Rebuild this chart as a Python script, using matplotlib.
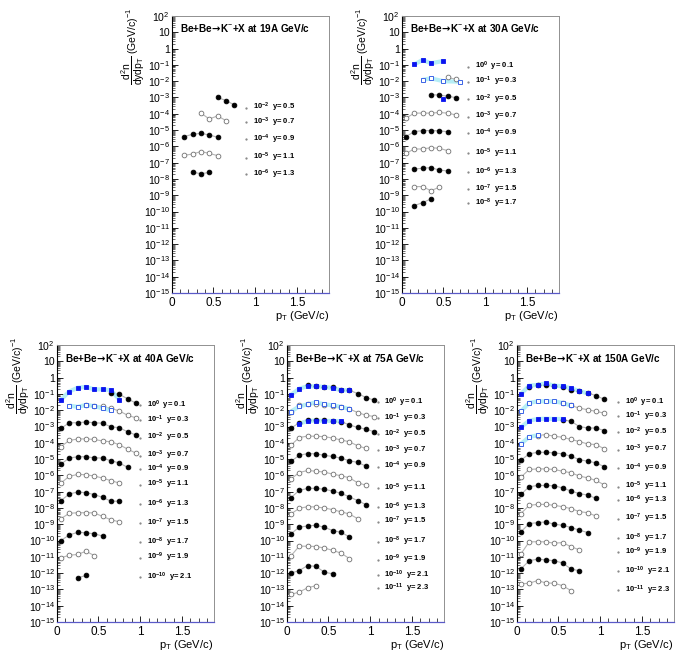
import numpy as np
import matplotlib
matplotlib.use('Agg')
import matplotlib.pyplot as plt
from matplotlib.ticker import LogLocator, MultipleLocator, FuncFormatter, NullFormatter

plt.rcParams['font.family'] = ['Liberation Sans', 'DejaVu Sans']
plt.rcParams['mathtext.fontset'] = 'custom'
plt.rcParams['mathtext.rm'] = 'Liberation Sans'
plt.rcParams['mathtext.it'] = 'Liberation Sans'
plt.rcParams['mathtext.bf'] = 'Liberation Sans:bold'
plt.rcParams['mathtext.sf'] = 'DejaVu Sans:bold'

n = np.nan

# pT bin centres (GeV/c)
pt = [0.05, 0.15, 0.25, 0.35, 0.45, 0.55, 0.65, 0.75, 0.85, 0.95, 1.05]

# ---- 19A GeV/c ----
rap_19 = [0.5, 0.7, 0.9, 1.1, 1.3]
exp_19 = [-2, -3, -4, -5, -6]
circ_19 = [
    [n, n, n, n, n, 1.0e-3, 6.5e-4, 3.5e-4, n, n, n],
    [n, n, n, 1.1e-4, 4.8e-5, 7.4e-5, 3.8e-5, n, n, n, n],
    [n, 4.0e-6, 5.5e-6, 6.3e-6, 5.0e-6, 3.6e-6, n, n, n, n, n],
    [n, 2.8e-7, 3.4e-7, 4.8e-7, 3.7e-7, 2.7e-7, n, n, n, n, n],
    [n, n, 2.6e-8, 2.1e-8, 2.5e-8, n, n, n, n, n, n],
]
sq_pt_19 = []
sq_rap_19 = []
sq_19 = []
lab_y_19 = [2.4e-4, 3.0e-5, 2.7e-6, 2.0e-7, 2.0e-8]

# ---- 30A GeV/c ----
rap_30 = [0.1, 0.3, 0.5, 0.7, 0.9, 1.1, 1.3, 1.5, 1.7]
exp_30 = [0, -1, -2, -3, -4, -5, -6, -7, -8]
circ_30 = [
    [n, n, n, n, n, n, n, n, n, n, n],
    [n, n, n, n, n, 1.7e-2, 1.3e-2, n, n, n, n],
    [n, n, n, 1.5e-3, 1.4e-3, 1.2e-3, 9.8e-4, n, n, n, n],
    [5.2e-5, 1.1e-4, 1.1e-4, 1.1e-4, 1.2e-4, 1.1e-4, 8.5e-5, n, n, n, n],
    [4.0e-6, 7.9e-6, 9.3e-6, 9.3e-6, 9.0e-6, 7.9e-6, n, n, n, n, n],
    [3.7e-7, 6.9e-7, 6.9e-7, 8.3e-7, 7.6e-7, 5.5e-7, n, n, n, n, n],
    [n, 4.1e-8, 4.5e-8, 5.0e-8, 3.5e-8, 3.1e-8, n, n, n, n, n],
    [n, 3.4e-9, 3.4e-9, 1.9e-9, 3.1e-9, n, n, n, n, n, n],
    [n, 2.3e-10, 3.5e-10, 5.9e-10, n, n, n, n, n, n, n],
]
sq_pt_30 = [0.15, 0.25, 0.35, 0.50, 0.70]
sq_rap_30 = [0.1, 0.3, 0.5]
sq_30 = [
    [0.107, 0.20, 0.126, 0.174, n],
    [n, 1.2e-2, 1.5e-2, 1.0e-2, 9.3e-3],
    [n, n, n, 8.1e-4, n],
]
lab_y_30 = [7.8e-2, 9.3e-3, 7.8e-4, 6.6e-5, 6.3e-6, 3.7e-7, 2.5e-8, 2.3e-9, 3.2e-10]

# ---- 40A GeV/c ----
rap_40 = [0.1, 0.3, 0.5, 0.7, 0.9, 1.1, 1.3, 1.5, 1.7, 1.9, 2.1]
exp_40 = [0, -1, -2, -3, -4, -5, -6, -7, -8, -9, -10]
circ_40 = [
    [n, n, n, n, n, n, 0.11, 9.5e-2, 5.0e-2, 2.7e-2, n],
    [n, n, n, 2.2e-2, 1.9e-2, 1.7e-2, 1.3e-2, 9.0e-3, 4.9e-3, 3.4e-3, n],
    [7.6e-4, 1.7e-3, 1.7e-3, 1.9e-3, 1.7e-3, 1.6e-3, 9.5e-4, 8.5e-4, 4.7e-4, 3.0e-4, n],
    [5.7e-5, 1.4e-4, 1.7e-4, 1.75e-4, 1.6e-4, 1.3e-4, 1.15e-4, 7.6e-5, 4.1e-5, 2.3e-5, n],
    [4.9e-6, 1.15e-5, 1.4e-5, 1.4e-5, 1.2e-5, 1.15e-5, 7.9e-6, 5.8e-6, 3.1e-6, n, n],
    [3.4e-7, 8.7e-7, 1.15e-6, 1.1e-6, 9.1e-7, 6.9e-7, 4.7e-7, 3.4e-7, n, n, n],
    [2.8e-8, 7.2e-8, 9.5e-8, 8.7e-8, 6.6e-8, 4.5e-8, 2.6e-8, 2.6e-8, n, n, n],
    [2.2e-9, 4.7e-9, 5.1e-9, 5.1e-9, 5.0e-9, 3.0e-9, 1.9e-9, 1.4e-9, n, n, n],
    [1.0e-10, 2.2e-10, 3.2e-10, 3.0e-10, 2.6e-10, 1.9e-10, n, n, n, n, n],
    [8.7e-12, 1.26e-11, 1.4e-11, 2.2e-11, 1.2e-11, n, n, n, n, n, n],
    [n, n, 5.1e-13, 7.2e-13, n, n, n, n, n, n, n],
]
sq_pt_40 = [0.05, 0.15, 0.25, 0.35, 0.45, 0.55, 0.65, 0.75]
sq_rap_40 = [0.1, 0.3]
sq_40 = [
    [0.043, 0.14, 0.24, 0.27, 0.19, 0.19, 0.17, 0.045],
    [n, 0.0194, 0.016, 0.021, 0.018, 0.013, 0.010, n],
]
lab_y_40 = [2.1e-2, 2.5e-3, 2.1e-4, 1.6e-5, 2.5e-6, 2.7e-7, 1.7e-8, 1.2e-9,
            8.3e-11, 8.7e-12, 5.8e-13]

# ---- 75A GeV/c ----
rap_75 = [0.1, 0.3, 0.5, 0.7, 0.9, 1.1, 1.3, 1.5, 1.7, 1.9, 2.1, 2.3]
exp_75 = [0, -1, -2, -3, -4, -5, -6, -7, -8, -9, -10, -11]
circ_75 = [
    [n, n, 0.34, 0.30, 0.28, 0.25, 0.18, 0.17, 0.105, 0.06, 0.041],
    [8.3e-3, 2.0e-2, 2.3e-2, 2.5e-2, 2.2e-2, 1.9e-2, 1.6e-2, 1.2e-2, 7.2e-3, 4.9e-3, 4.1e-3],
    [7.9e-4, 1.7e-3, 2.5e-3, 2.5e-3, 2.4e-3, 2.2e-3, 2.0e-3, 1.26e-3, 8.7e-4, 6.9e-4, 4.7e-4],
    [7.2e-5, 2.1e-4, 2.6e-4, 2.5e-4, 2.4e-4, 1.95e-4, 1.5e-4, 1.15e-4, 6.6e-5, 4.5e-5, n],
    [7.2e-6, 1.7e-5, 2.2e-5, 2.1e-5, 1.7e-5, 1.45e-5, 1.15e-5, 7.9e-6, 6.3e-6, 3.7e-6, n],
    [6.0e-7, 1.5e-6, 2.0e-6, 1.8e-6, 1.6e-6, 1.2e-6, 9.5e-7, 7.2e-7, 3.5e-7, 2.5e-7, n],
    [4.3e-8, 1.2e-7, 1.6e-7, 1.6e-7, 1.4e-7, 1.1e-7, 7.9e-8, 4.9e-8, 2.8e-8, 1.6e-8, n],
    [4.3e-9, 9.5e-9, 1.2e-8, 1.15e-8, 1.0e-8, 7.9e-9, 5.8e-9, 4.3e-9, 2.2e-9, n, n],
    [2.6e-10, 6.6e-10, 7.9e-10, 8.7e-10, 6.6e-10, 4.1e-10, 3.2e-10, 1.7e-10, n, n, n],
    [1.15e-11, 4.5e-11, 4.5e-11, 4.3e-11, 3.5e-11, 2.5e-11, 1.7e-11, 7.9e-12, n, n, n],
    [1.0e-12, 1.45e-12, 2.9e-12, 2.6e-12, 1.15e-12, 9.1e-13, n, n, n, n, n],
    [4.9e-14, 6.9e-14, 1.26e-13, 1.7e-13, n, n, n, n, n, n, n],
]
sq_pt_75 = [0.05, 0.15, 0.25, 0.35, 0.45, 0.55, 0.65, 0.75]
sq_rap_75 = [0.1, 0.3, 0.5]
sq_75 = [
    [0.087, 0.21, 0.30, 0.29, 0.27, 0.23, 0.17, 0.166],
    [8.3e-3, 1.7e-2, 2.3e-2, 3.0e-2, 2.3e-2, 2.0e-2, 1.6e-2, 1.2e-2],
    [n, 1.5e-3, 2.2e-3, 2.3e-3, 2.2e-3, 2.2e-3, 2.1e-3, n],
]
lab_y_75 = [3.2e-2, 3.2e-3, 3.4e-4, 3.5e-5, 3.5e-6, 1.6e-7, 1.1e-8, 1.45e-9,
            8.7e-11, 6.6e-12, 7.5e-13, 1.2e-13]

# ---- 150A GeV/c ----
rap_150 = [0.1, 0.3, 0.5, 0.7, 0.9, 1.1, 1.3, 1.5, 1.7, 1.9, 2.1, 2.3]
exp_150 = [0, -1, -2, -3, -4, -5, -6, -7, -8, -9, -10, -11]
circ_150 = [
    [n, 0.25, 0.36, 0.36, 0.32, 0.27, 0.18, 0.15, 0.115, 0.079, 0.046],
    [n, n, n, n, n, 2.8e-2, 1.95e-2, 1.35e-2, 1.07e-2, 8.5e-3, 6.6e-3],
    [n, n, n, n, n, 2.6e-3, 2.1e-3, 1.0e-3, 8.1e-4, 8.1e-4, 5.6e-4],
    [n, n, 2.8e-4, 3.2e-4, 2.5e-4, 2.2e-4, 1.6e-4, 1.2e-4, 8.5e-5, 7.8e-5, 4.3e-5],
    [8.5e-6, 2.1e-5, 2.6e-5, 2.6e-5, 2.4e-5, 2.1e-5, 1.5e-5, 9.3e-6, 7.4e-6, 5.9e-6, 3.4e-6],
    [7.8e-7, 2.3e-6, 2.5e-6, 2.5e-6, 2.3e-6, 1.8e-6, 1.45e-6, 9.1e-7, 7.1e-7, 4.9e-7, 2.6e-7],
    [6.8e-8, 2.0e-7, 2.4e-7, 2.4e-7, 2.3e-7, 1.7e-7, 1.1e-7, 7.6e-8, 6.2e-8, 3.9e-8, n],
    [4.5e-9, 1.45e-8, 1.66e-8, 1.66e-8, 1.45e-8, 1.2e-8, 9.1e-9, 6.0e-9, 5.1e-9, 3.2e-9, n],
    [3.4e-10, 1.1e-9, 1.26e-9, 1.4e-9, 1.0e-9, 8.7e-10, 6.3e-10, 4.4e-10, 3.1e-10, n, n],
    [1.5e-11, 8.3e-11, 8.5e-11, 8.3e-11, 6.9e-11, 7.5e-11, 4.2e-11, 2.7e-11, n, n, n],
    [1.8e-12, 5.8e-12, 7.2e-12, 6.5e-12, 5.8e-12, 4.2e-12, 1.8e-12, 1.4e-12, n, n, n],
    [2.2e-13, 2.4e-13, 3.5e-13, 2.5e-13, 2.4e-13, 1.7e-13, 8.5e-14, n, n, n, n],
]
sq_pt_150 = [0.05, 0.15, 0.25, 0.35, 0.45, 0.55, 0.65, 0.75, 0.85]
sq_rap_150 = [0.1, 0.3, 0.5, 0.7]
sq_150 = [
    [0.098, 0.32, 0.36, 0.44, 0.32, 0.30, 0.22, 0.155, 0.107],
    [8.5e-3, 2.8e-2, 3.5e-2, 3.5e-2, 3.5e-2, 2.8e-2, 1.95e-2, n, n],
    [8.9e-4, 2.3e-3, 2.9e-3, 3.0e-3, 2.9e-3, 2.9e-3, n, n, n],
    [8.5e-5, 2.3e-4, 2.9e-4, n, n, n, n, n, n],
]
lab_y_150 = [3.0e-2, 4.2e-3, 4.6e-4, 3.8e-5, 2.9e-6, 2.0e-7, 3.1e-8, 2.2e-9,
             1.4e-10, 2.0e-11, 1.3e-12, 9.3e-14]

energies = ['19A', '30A', '40A', '75A', '150A']


def filled(r):
    return int(round((r - 0.1) / 0.2)) % 2 == 0


def ytick_fmt(v, pos):
    e = int(round(np.log10(v)))
    if e == 0:
        return '1'
    if e == 1:
        return '10'
    return r'$10^{%d}$' % e


def draw(ax, energy, rap, exps, circ, sq_pt, sq_rap, sq, lab_y, lab_x):
    x_all = np.array(pt)
    for r, vals in zip(rap, circ):
        v = np.array(vals, float)
        m = ~np.isnan(v)
        if not m.any():
            continue
        ax.plot(x_all[m], v[m], '-', color='#b4b4b4', lw=0.8, zorder=1)
        if filled(r):
            ax.plot(x_all[m], v[m], 'o', ms=3.4, mfc='black', mec='black', mew=0.6, zorder=3)
        else:
            ax.plot(x_all[m], v[m], 'o', ms=3.4, mfc='white', mec='#707070', mew=0.6, zorder=3)
    xs = np.array(sq_pt)
    for r, vals in zip(sq_rap, sq):
        v = np.array(vals, float)
        m = ~np.isnan(v)
        ax.plot(xs[m], v[m], '-', color='#b6eef6', lw=3.0, zorder=2, solid_capstyle='butt')
        if filled(r):
            ax.plot(xs[m], v[m], 's', ms=3.5, mfc='#0a14f0', mec='#0a14f0', mew=0.6, zorder=4)
        else:
            ax.plot(xs[m], v[m], 's', ms=3.5, mfc='white', mec='#3c64e6', mew=0.7, zorder=4)
    for r, e, ly in zip(rap, exps, lab_y):
        ax.plot(lab_x, ly, '.', ms=1.2, color='#808080', zorder=2)
        ax.text(lab_x + 0.08, ly, r'$\mathbf{10^{%d}}$  y= %.1f' % (e, r), fontsize=5.5,
                fontweight='bold', ha='left', va='center')

    ax.set_yscale('log')
    ax.set_ylim(1e-15, 1e2)
    ax.set_xlim(0, 1.88)
    ax.yaxis.set_major_locator(LogLocator(base=10, numticks=30))
    ax.yaxis.set_minor_locator(LogLocator(base=10, subs=np.arange(2, 10), numticks=30))
    ax.yaxis.set_major_formatter(FuncFormatter(ytick_fmt))
    ax.yaxis.set_minor_formatter(NullFormatter())
    ax.xaxis.set_major_locator(MultipleLocator(0.5))
    ax.xaxis.set_minor_locator(MultipleLocator(0.1))
    ax.xaxis.set_major_formatter(FuncFormatter(lambda v, p: '%g' % v))
    ax.tick_params(axis='both', which='both', direction='in', top=False, right=False)
    ax.tick_params(axis='y', which='major', length=4.5, width=0.6, labelsize=7.6, pad=1.5)
    ax.tick_params(axis='y', which='minor', length=2.2, width=0.4)
    ax.tick_params(axis='x', which='major', length=4.5, width=0.6, labelsize=8.5, pad=3)
    ax.tick_params(axis='x', which='minor', length=3.0, width=0.5)
    ax.spines['left'].set_color('black')
    ax.spines['left'].set_linewidth(0.8)
    ax.spines['bottom'].set_color('#5a5ac8')
    ax.spines['bottom'].set_linewidth(0.9)
    for s in ('top', 'right'):
        ax.spines[s].set_color('#909090')
        ax.spines[s].set_linewidth(0.7)

    ax.text(0.055, 0.955, r'Be+Be$\!\mathsf{\rightarrow}\!$K$^{-}$+X at %s GeV/c' % energy,
            transform=ax.transAxes, fontsize=7.2, fontweight='bold', ha='left', va='center')
    ax.text(-0.245, 1.03, r'$\dfrac{d^{2}n}{dydp_{T}}$ (GeV/c)$^{-1}$', transform=ax.transAxes,
            rotation=90, fontsize=7.5, ha='center', va='top')
    ax.text(1.0, -0.082, r'p$_{T}$ (GeV/c)', transform=ax.transAxes, fontsize=8,
            ha='right', va='center')


fig = plt.figure(figsize=(6.85, 6.54), dpi=100)
w, h = 0.229, 0.4235
rects = [
    (0.2507, 0.552, w, h),
    (0.5864, 0.552, w, h),
    (0.0828, 0.0489, w, h),
    (0.4186, 0.0489, w, h),
    (0.7543, 0.0489, w, h),
]
panels = [
    (rap_19, exp_19, circ_19, sq_pt_19, sq_rap_19, sq_19, lab_y_19, 0.89),
    (rap_30, exp_30, circ_30, sq_pt_30, sq_rap_30, sq_30, lab_y_30, 0.80),
    (rap_40, exp_40, circ_40, sq_pt_40, sq_rap_40, sq_40, lab_y_40, 1.00),
    (rap_75, exp_75, circ_75, sq_pt_75, sq_rap_75, sq_75, lab_y_75, 1.09),
    (rap_150, exp_150, circ_150, sq_pt_150, sq_rap_150, sq_150, lab_y_150, 1.22),
]
for rect, en, p in zip(rects, energies, panels):
    ax = fig.add_axes(rect)
    draw(ax, en, *p)

fig.savefig('out.png', dpi=100)
